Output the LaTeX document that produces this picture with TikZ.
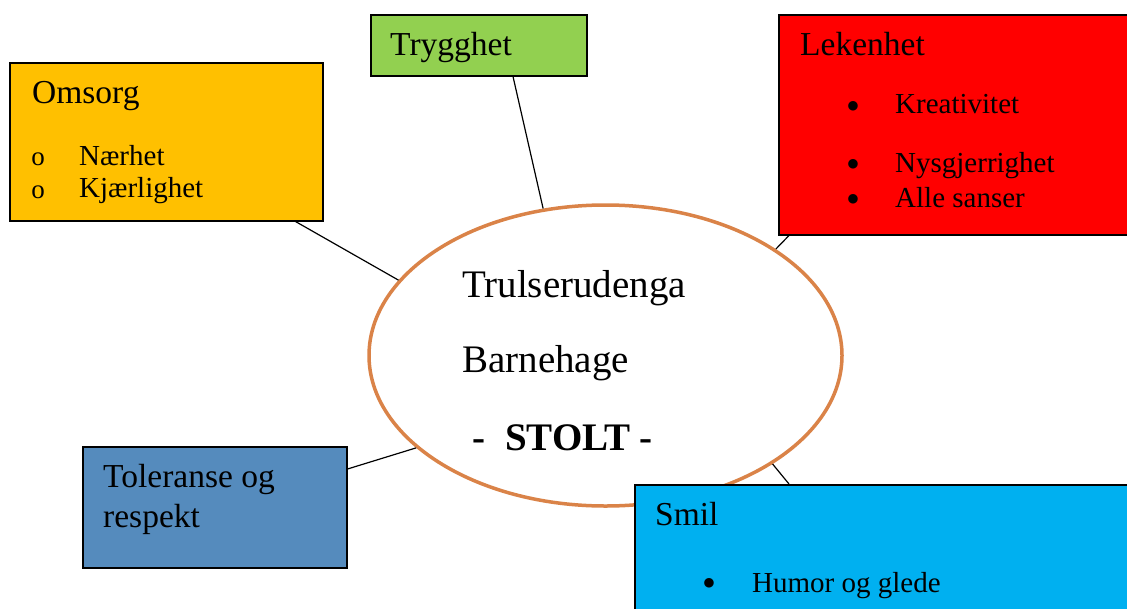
\documentclass[tikz,border=0pt]{standalone}
\usepackage{fontspec}
\setmainfont{Liberation Serif}
\newfontfamily\symfont{DejaVu Sans}
\usepackage{xcolor}
\usepackage{tikz}
\usetikzlibrary{shapes.geometric}
\definecolor{gull}{HTML}{FFC000}
\definecolor{gress}{HTML}{92D050}
\definecolor{rod}{HTML}{FF0000}
\definecolor{stal}{HTML}{558BBD}
\definecolor{himmel}{HTML}{00B0F0}
\definecolor{oransje}{HTML}{DA8348}

\begin{document}
\begin{tikzpicture}[x=1pt,y=-1pt,
  boks/.style={draw,line width=1.5pt,anchor=north west,inner sep=0pt},
  tittel/.style={anchor=base west,inner sep=0pt,font=\fontsize{33.5}{40}\selectfont},
  punkt/.style={anchor=base west,inner sep=0pt,font=\fontsize{29}{34}\selectfont},
  prikk/.style={anchor=center,inner sep=0pt,font=\symfont\fontsize{12.5}{14}\selectfont},
  ring/.style={anchor=center,inner sep=0pt,font=\fontsize{27}{30}\selectfont},
  midt/.style={anchor=base west,inner sep=0pt,font=\fontsize{39}{46}\selectfont}]
\useasboundingbox (0,0) rectangle (1127,608);
% kjernen
\node[ellipse,draw=oransje,fill=white,line width=3.5pt,minimum width=473pt,minimum height=301pt] (kjerne) at (605.5,355.5) {};
\node[midt] (t1) at (462,297) {Trulserudenga};
\node[midt] (t2) at (462,372) {Barnehage};
\node[midt] (t3) at (472,450) {\bfseries -\hspace{20pt}STOLT\hspace{9pt}-};
% boksene
\node[boks,fill=gull,minimum width=313pt,minimum height=158pt] (omsorg) at (9,62) {};
\node[tittel] (o0) at (32,103) {Omsorg};
\node[ring] (o1r) at (38,159) {o};
\node[punkt] (o1) at (79,165) {Nærhet};
\node[ring] (o2r) at (38,192) {o};
\node[punkt] (o2) at (79,197) {Kjærlighet};
\node[boks,fill=gress,minimum width=216pt,minimum height=61pt] (trygg) at (370,14) {};
\node[tittel] (tr0) at (390,55) {Trygghet};
\node[boks,fill=rod,minimum width=370pt,minimum height=220pt] (lek) at (778,14) {};
\node[tittel] (l0) at (800,55) {Lekenhet};
\node[prikk] (l1p) at (853,106) {●};
\node[punkt] (l1) at (895,113) {Kreativitet};
\node[prikk] (l2p) at (853,164) {●};
\node[punkt] (l2) at (895,172) {Nysgjerrighet};
\node[prikk] (l3p) at (853,199) {●};
\node[punkt] (l3) at (895,207) {Alle sanser};
\node[boks,fill=stal,minimum width=264pt,minimum height=121pt] (tol) at (82,446) {};
\node[tittel] (to1) at (103,487) {Toleranse og};
\node[tittel] (to2) at (103,527) {respekt};
\node[boks,fill=himmel,minimum width=520pt,minimum height=150pt] (smil) at (634,484) {};
\node[tittel] (s0) at (655,525) {Smil};
\node[prikk] (s1p) at (709,583) {●};
\node[punkt] (s1) at (752,592) {Humor og glede};
% strekene
\draw[line width=1.2pt] ([xshift=143pt]trygg.south west) -- (kjerne.113);
\draw[line width=1.2pt] ([xshift=-28pt]omsorg.south east) -- (kjerne.160);
\draw[line width=1.2pt] ([xshift=11pt]lek.south west) -- (kjerne.32);
\draw[line width=1.2pt] ([yshift=-23pt]tol.north east) -- (kjerne.206);
\draw[line width=1.2pt] ([xshift=155pt]smil.north west) -- (kjerne.-33);
\end{tikzpicture}
\end{document}
